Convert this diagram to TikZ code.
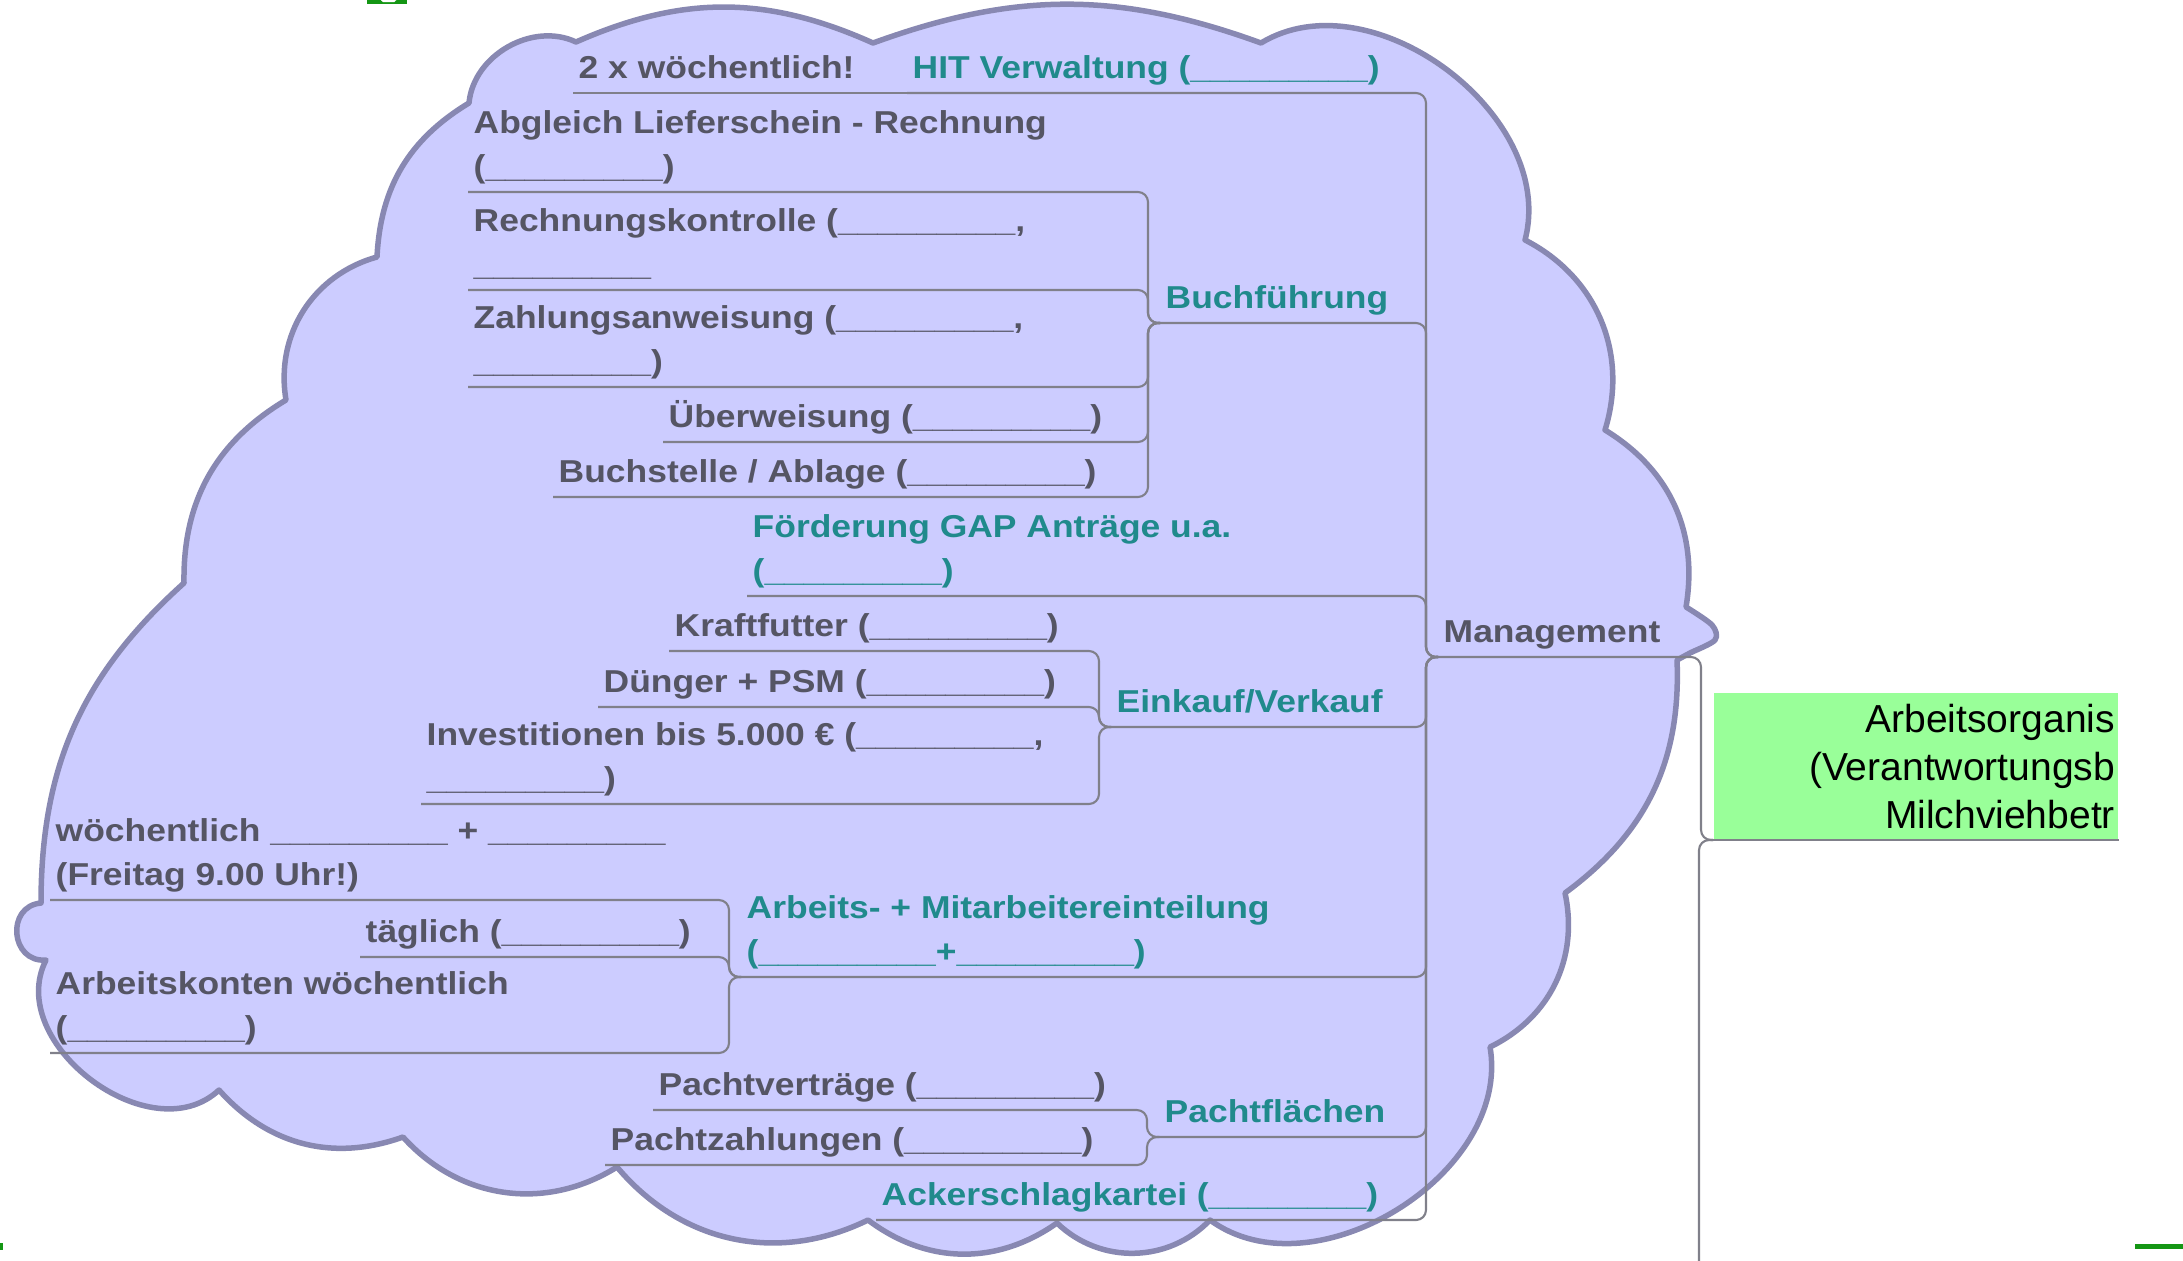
\documentclass[tikz,border=0pt]{standalone}
\usepackage{fontspec}
\newfontfamily\topicfont{Liberation Sans}[FakeStretch=1.12]
\newfontfamily\centrefont{Liberation Sans}
\definecolor{bubblefill}{RGB}{204,204,255}
\definecolor{bubbleline}{RGB}{136,136,178}
\definecolor{linkgrey}{RGB}{128,128,138}
\definecolor{textgrey}{RGB}{85,85,100}
\definecolor{mainteal}{RGB}{32,138,140}
\definecolor{boxgreen}{RGB}{153,255,153}
\definecolor{markgreen}{RGB}{20,150,20}
\newcommand{\fillin}{\_\_\_\_\_\_\_\_\_}
\begin{document}
\begin{tikzpicture}[x=0.01cm, y=0.01cm,
  subtopic/.style={font={\topicfont\bfseries\fontsize{9}{12.4}\selectfont}, text=textgrey, anchor=south west, inner xsep=0.05cm, inner ysep=0.14cm, text depth=0pt, align=left},
  topic/.style={subtopic, text=mainteal},
  central/.style={fill=boxgreen, text=black, font={\centrefont\fontsize{11.1}{13.7}\selectfont}, align=right, text width=3.98cm, inner xsep=0.03cm, inner ysep=0pt, minimum height=1.46cm, anchor=south west},
  link/.style={draw=linkgrey, line width=0.6pt, rounded corners=2.85pt},
  hook/.style={to path={-| ([xshift=-0.12cm]\tikztotarget) -- (\tikztotarget)}},
  bubble/.style={fill=bubblefill, draw=bubbleline, line width=0.055cm, line join=round}]
\useasboundingbox (0,0) rectangle (2183,-1260);
% the cloud round the Management branch
\path[bubble] (469,-103)
  to[bend left=55] (576,-42)
  to[bend left=24] (873,-43)
  to[bend left=20] (1261,-43)
  to[bend left=68] (1525,-240)
  to[bend left=40] (1605,-430)
  to[bend left=34] (1686,-607)
  -- plot[smooth] coordinates {(1686,-607) (1712,-625) (1715,-640) (1690,-653) (1677,-660)}
  to[bend left=28] (1565,-893)
  to[bend left=38] (1490,-1047)
  to[bend left=68] (1210,-1220)
  to[bend left=45] (1057,-1223)
  to[bend left=36] (868,-1220)
  to[bend left=38] (617,-1167)
  to[bend left=40] (403,-1137)
  to[bend left=34] (219,-1090)
  to[bend left=80, looseness=1.1] (46,-960)
  to[bend left=90, looseness=1.6] (41,-903)
  to[bend left=24] (184,-583)
  to[bend left=30] (286,-400)
  to[bend left=42] (377,-257)
  to[bend left=28] (469,-103)
  -- cycle;
% marks at the edges
\fill[markgreen] (367,0) rectangle (407,-4);
\fill[white, rounded corners=0.5pt] (381,1) rectangle (396,-2);
\fill[markgreen] (0,-1243) rectangle (3,-1250);
\fill[markgreen] (2135,-1244) rectangle (2183,-1249);
% topics
\node[subtopic] (twice) at (573,-93) {2 x wöchentlich!};
\node[topic] (hit) at (907,-93) {HIT Verwaltung (\fillin)};
\node[subtopic] (abgleich) at (468,-192) {Abgleich Lieferschein - Rechnung\\(\fillin)};
\node[subtopic] (kontrolle) at (468,-290) {Rechnungskontrolle (\fillin,\\\fillin};
\node[subtopic] (anweisung) at (468,-387) {Zahlungsanweisung (\fillin,\\\fillin)};
\node[subtopic] (ueberw) at (663,-442) {Überweisung (\fillin)};
\node[subtopic] (ablage) at (553,-497) {Buchstelle / Ablage (\fillin)};
\node[topic] (buch) at (1160,-323) {Buchführung};
\node[topic] (gap) at (747,-596) {Förderung GAP Anträge u.a.\\(\fillin)};
\node[subtopic] (kraft) at (669,-651) {Kraftfutter (\fillin)};
\node[subtopic] (duenger) at (598,-707) {Dünger + PSM (\fillin)};
\node[subtopic] (invest) at (421,-804) {Investitionen bis 5.000 € (\fillin,\\\fillin)};
\node[topic] (einkauf) at (1111,-727) {Einkauf/Verkauf};
\node[subtopic] (woche) at (50,-900) {wöchentlich \fillin{} + \fillin\\(Freitag 9.00 Uhr!)};
\node[subtopic] (taegl) at (360,-957) {täglich (\fillin)};
\node[subtopic] (konten) at (50,-1053) {Arbeitskonten wöchentlich\\(\fillin)};
\node[topic] (arbeit) at (741,-977) {Arbeits- + Mitarbeitereinteilung\\(\fillin+\fillin)};
\node[subtopic] (pvertr) at (653,-1110) {Pachtverträge (\fillin)};
\node[subtopic] (pzahl) at (605,-1165) {Pachtzahlungen (\fillin)};
\node[topic] (pacht) at (1159,-1137) {Pachtflächen};
\node[topic] (acker) at (876,-1220) {Ackerschlagkartei (\_\_\_\_\_\_\_\_)};
\node[subtopic] (mgmt) at (1438,-657) {Management};
\node[central] (centre) at (1713,-840) {Arbeitsorganis\\(Verantwortungsb\\Milchviehbetr};
\coordinate (down) at (1699,-1265);
% links
\begin{scope}
\draw[link] (twice.south west) -- (hit.south west);
\draw[link] (abgleich.south west) to[hook] (buch.south west);
\draw[link] (kontrolle.south west) to[hook] (buch.south west);
\draw[link] (anweisung.south west) to[hook] (buch.south west);
\draw[link] (ueberw.south west) to[hook] (buch.south west);
\draw[link] (ablage.south west) to[hook] (buch.south west);
\draw[link] (kraft.south west) to[hook] (einkauf.south west);
\draw[link] (duenger.south west) to[hook] (einkauf.south west);
\draw[link] (invest.south west) to[hook] (einkauf.south west);
\draw[link] (woche.south west) to[hook] (arbeit.south west);
\draw[link] (taegl.south west) to[hook] (arbeit.south west);
\draw[link] (konten.south west) to[hook] (arbeit.south west);
\draw[link] (pvertr.south west) to[hook] (pacht.south west);
\draw[link] (pzahl.south west) to[hook] (pacht.south west);
\draw[link] (hit.south west) to[hook] (mgmt.south west);
\draw[link] (buch.south west) to[hook] (mgmt.south west);
\draw[link] (gap.south west) to[hook] (mgmt.south west);
\draw[link] (einkauf.south west) to[hook] (mgmt.south west);
\draw[link] (arbeit.south west) to[hook] (mgmt.south west);
\draw[link] (pacht.south west) to[hook] (mgmt.south west);
\draw[link] (acker.south west) to[hook] (mgmt.south west);
\draw[link] (mgmt.south west) to[hook] (centre.south west);
\draw[link] (centre.south west) -- (centre.south east);
\draw[link] (centre.south west) -| (down);
\end{scope}
\end{tikzpicture}
\end{document}
